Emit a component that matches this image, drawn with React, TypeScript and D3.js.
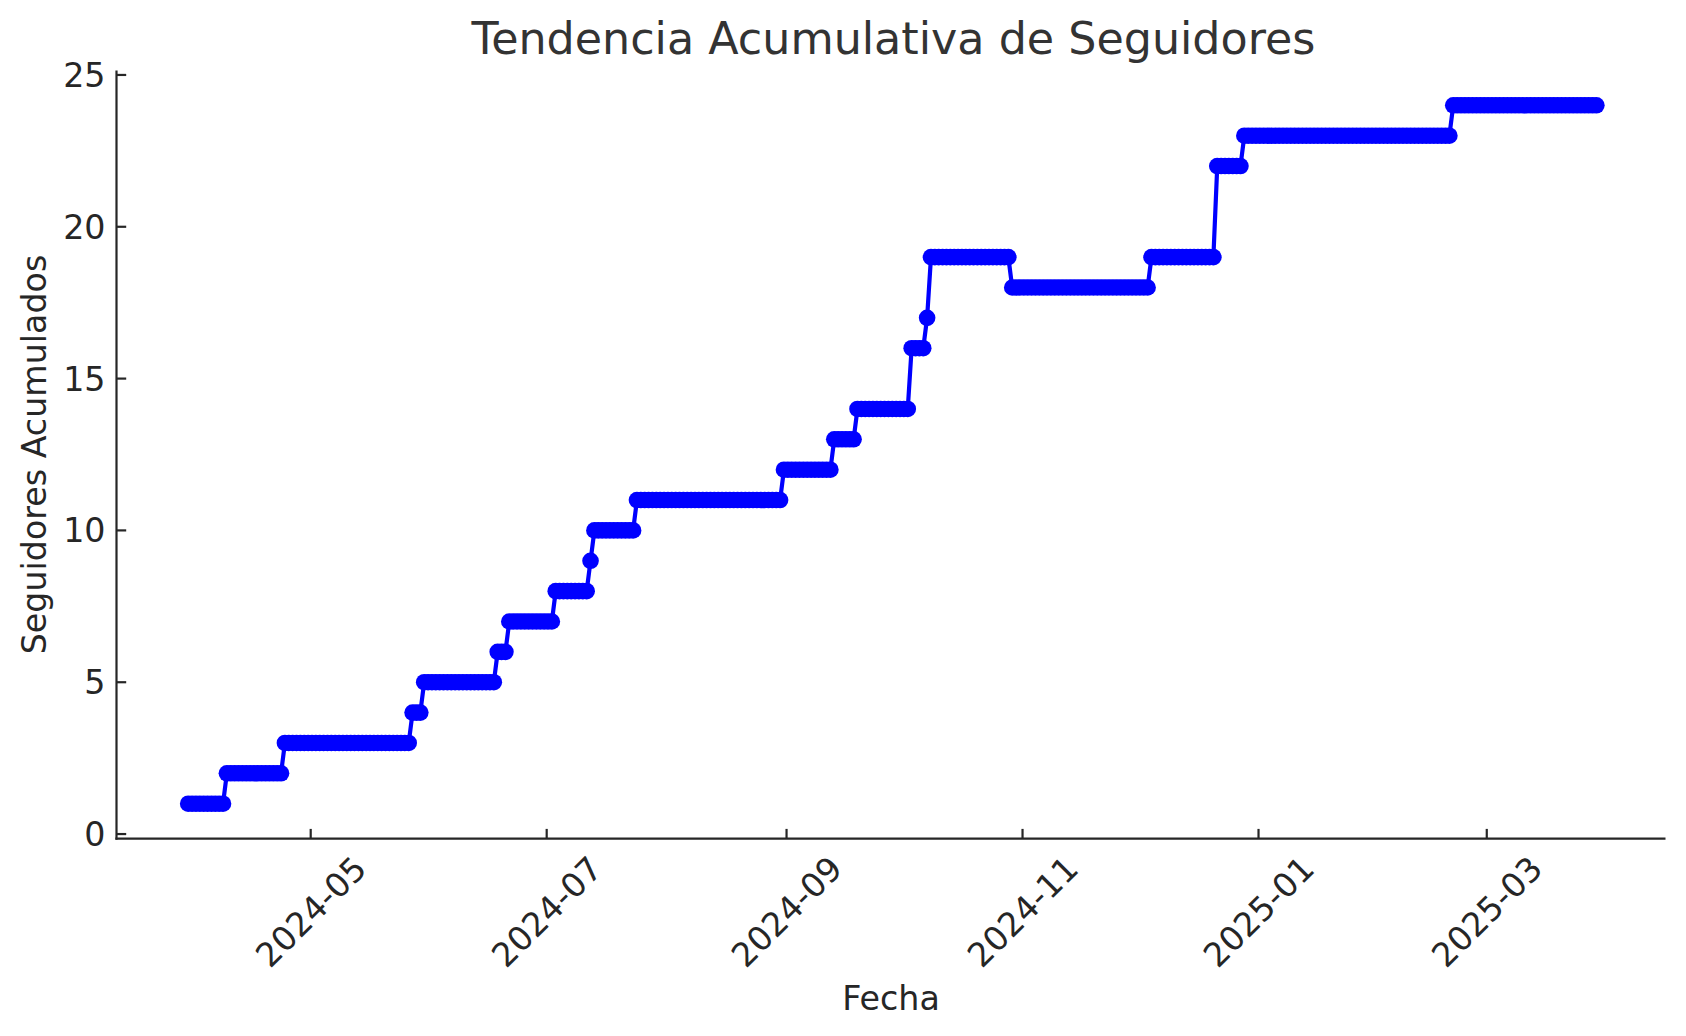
import React from "react";
import * as d3 from "d3";

// Dates on which the cumulative follower count changes, and the new count from that date on
const changeDates = [
  "2024-03-30", "2024-04-09", "2024-04-24", "2024-05-27", "2024-05-30", "2024-06-18",
  "2024-06-21", "2024-07-03", "2024-07-12", "2024-07-13", "2024-07-24", "2024-08-31",
  "2024-09-13", "2024-09-19", "2024-10-03", "2024-10-07", "2024-10-08", "2024-10-29",
  "2024-12-04", "2024-12-21", "2024-12-28", "2025-02-20",
];
const followerCounts = [1, 2, 3, 4, 5, 6, 7, 8, 9, 10, 11, 12, 13, 14, 16, 17, 19, 18, 19, 22, 23, 24];
const lastDate = "2025-03-29";

const xTickDates = ["2024-05-01", "2024-07-01", "2024-09-01", "2024-11-01", "2025-01-01", "2025-03-01"];
const yTicks = [0, 5, 10, 15, 20, 25];

const TITLE = "Tendencia Acumulativa de Seguidores";
const XLABEL = "Fecha";
const YLABEL = "Seguidores Acumulados";

const W = 1686;
const H = 1036;
const M = { left: 116.5, right: 1665.5, top: 70.4, bottom: 838.6 };
const FONT = "'DejaVu Sans', sans-serif";

const parse = d3.utcParse("%Y-%m-%d");

// one point per day, carrying the count of the latest change on or before that day
const days = d3.utcDay.range(parse(changeDates[0])!, d3.utcDay.offset(parse(lastDate)!, 1));
const changes = changeDates.map((d, i) => ({ date: parse(d)!, value: followerCounts[i] }));
const bis = d3.bisector((c: { date: Date }) => c.date).right;
const series = days.map((day) => ({ date: day, value: changes[bis(changes, day) - 1].value }));

// the daily samples sit a few hours into each day
const SAMPLE_HOUR_MS = 8 * 3600 * 1000;

export default function App() {
  const x0 = series[0].date.getTime();
  const x1 = series[series.length - 1].date.getTime();
  const xm = (x1 - x0) * 0.05;
  const x = d3.scaleUtc().domain([new Date(x0 - xm), new Date(x1 + xm)]).range([M.left, M.right]);
  const px = (d: Date) => x(new Date(d.getTime() + SAMPLE_HOUR_MS));

  const [vmin, vmax] = d3.extent(series, (d) => d.value) as [number, number];
  const ym = (vmax - vmin) * 0.05;
  const y = d3.scaleLinear().domain([vmin - ym, vmax + ym]).range([M.bottom, M.top]);

  const line = d3
    .line<{ date: Date; value: number }>()
    .x((d) => px(d.date))
    .y((d) => y(d.value));

  const fmt = d3.utcFormat("%Y-%m");
  const tickFs = 33.3;
  const labelW = 4.18 * tickFs;
  const labelH = 1.17 * tickFs;
  const rotBox = (labelW + labelH) / Math.SQRT2;
  const axisColor = "#262626";

  return (
    <svg width={W} height={H} style={{ position: "absolute", left: 0, top: 0, background: "#fff" }} fontFamily={FONT}>
      <rect width={W} height={H} fill="#fff" />
      <text x={(M.left + M.right) / 2 + 2.5} y={54} textAnchor="middle" fontSize={44.4} fill="#333">
        {TITLE}
      </text>

      {/* line + markers */}
      <path d={line(series) || ""} fill="none" stroke="#0000ff" strokeWidth={4.2} strokeLinejoin="round" />
      {series.map((d, i) => (
        <circle key={i} cx={px(d.date)} cy={y(d.value)} r={8.3} fill="#0000ff" />
      ))}

      {/* spines */}
      <line x1={M.left} x2={M.left} y1={M.top} y2={M.bottom + 1.1} stroke={axisColor} strokeWidth={2.2} />
      <line x1={M.left - 1.1} x2={M.right} y1={M.bottom} y2={M.bottom} stroke={axisColor} strokeWidth={2.2} />

      {/* y ticks */}
      {yTicks.map((t) => (
        <g key={t}>
          <line x1={M.left} x2={M.left + 9.7} y1={y(t)} y2={y(t)} stroke={axisColor} strokeWidth={2.2} />
          <text x={M.left - 11} y={y(t)} dy="0.36em" textAnchor="end" fontSize={tickFs} fill={axisColor}>
            {t}
          </text>
        </g>
      ))}

      {/* x ticks */}
      {xTickDates.map((s) => {
        const d = parse(s)!;
        const tx = x(d);
        const cy = M.bottom + 10 + rotBox / 2;
        return (
          <g key={s}>
            <line x1={tx} x2={tx} y1={M.bottom} y2={M.bottom - 9.7} stroke={axisColor} strokeWidth={2.2} />
            <text
              x={tx}
              y={cy}
              dy="0.36em"
              textAnchor="middle"
              fontSize={tickFs}
              fill={axisColor}
              transform={`rotate(-45 ${tx} ${cy})`}
            >
              {fmt(d)}
            </text>
          </g>
        );
      })}

      <text x={(M.left + M.right) / 2} y={1010} textAnchor="middle" fontSize={33.3} fill={axisColor}>
        {XLABEL}
      </text>
      <text
        x={0}
        y={0}
        textAnchor="middle"
        fontSize={33.3}
        fill={axisColor}
        transform={`translate(46 ${(M.top + M.bottom) / 2}) rotate(-90)`}
      >
        {YLABEL}
      </text>
    </svg>
  );
}
